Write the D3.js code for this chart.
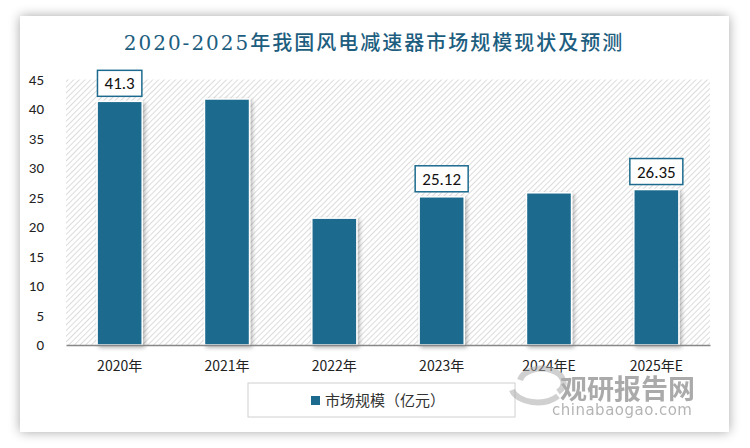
<!DOCTYPE html>
<html><head><meta charset="utf-8">
<script src="https://cdn.jsdelivr.net/npm/d3@7/dist/d3.min.js"></script>
<style>
html,body{margin:0;padding:0;background:#fff;}
svg{display:block;}
</style></head>
<body><svg id="chart" width="750" height="448"></svg>
<script>
const categories = ["2020年","2021年","2022年","2023年","2024年E","2025年E"];
const values = [41.3, 41.7, 21.5, 25.12, 25.8, 26.35];
const labelled = [true, false, false, true, false, true];
const yTicks = [0,5,10,15,20,25,30,35,40,45];
const title = "2020-2025年我国风电减速器市场规模现状及预测";
const seriesName = "市场规模（亿元）";

const svg = d3.select("#chart");
const defs = svg.append("defs");
const f = defs.append("filter").attr("id","cardShadow").attr("x","-10%").attr("y","-10%").attr("width","120%").attr("height","120%");
f.append("feGaussianBlur").attr("in","SourceAlpha").attr("stdDeviation",6);
f.append("feOffset").attr("dx",0).attr("dy",0).attr("result","b");
f.append("feComponentTransfer").append("feFuncA").attr("type","linear").attr("slope",0.35);
const fm = f.append("feMerge"); fm.append("feMergeNode"); fm.append("feMergeNode").attr("in","SourceGraphic");

const bs = defs.append("filter").attr("id","barShadow").attr("x","-30%").attr("y","-10%").attr("width","160%").attr("height","120%");
bs.append("feGaussianBlur").attr("in","SourceAlpha").attr("stdDeviation",2);
bs.append("feOffset").attr("dx",2).attr("dy",2);
bs.append("feComponentTransfer").append("feFuncA").attr("type","linear").attr("slope",0.3);
const bm = bs.append("feMerge"); bm.append("feMergeNode"); bm.append("feMergeNode").attr("in","SourceGraphic");

const pat = defs.append("pattern").attr("id","hatch").attr("patternUnits","userSpaceOnUse")
  .attr("width",4).attr("height",4).attr("patternTransform","rotate(45)");
pat.append("rect").attr("width",4).attr("height",4).attr("fill","#fff");
pat.append("line").attr("x1",0).attr("y1",0).attr("x2",0).attr("y2",4).attr("stroke","#d4d4d4").attr("stroke-width",1.6);

// card
svg.append("rect").attr("x",20).attr("y",16).attr("width",709).attr("height",416)
  .attr("fill","#fff").attr("filter","url(#cardShadow)");

svg.append("text").attr("x",374).attr("y",50).attr("text-anchor","middle")
  .attr("font-family","'DejaVu Serif', 'Noto Sans CJK SC', serif").attr("font-size",20).attr("font-weight",500)
  .attr("fill","#1d5e80").attr("letter-spacing",2).text(title);

const m = {left:66, right:710, top:79.5, bottom:345};
const x = d3.scaleBand().domain(categories).range([m.left, m.right]).paddingInner(0.58).paddingOuter(0.29);
const y = d3.scaleLinear().domain([0,45]).range([m.bottom, m.top]);

svg.append("rect").attr("x",m.left).attr("y",m.top).attr("width",m.right-m.left).attr("height",m.bottom-m.top)
  .attr("fill","url(#hatch)");

const yAxis = d3.axisLeft(y).tickValues(yTicks).tickSize(0).tickPadding(10);
const gy = svg.append("g").attr("transform",`translate(${m.left},0)`).call(yAxis);
gy.select(".domain").remove();
gy.selectAll("text").attr("font-family","Carlito, 'Liberation Sans', sans-serif").attr("font-size",15).attr("fill","#222").attr("dx",-12);

svg.selectAll("rect.bar").data(values).join("rect").attr("class","bar")
  .attr("x",(d,i)=>x(categories[i])).attr("y",d=>y(d))
  .attr("width",x.bandwidth()).attr("height",d=>m.bottom-y(d))
  .attr("fill","#1c6b8e").attr("stroke","#fff").attr("stroke-width",1.5)
  .attr("filter","url(#barShadow)");

const xAxis = d3.axisBottom(x).tickSize(0).tickPadding(16);
const gx = svg.append("g").attr("transform",`translate(0,${m.bottom})`).call(xAxis);
gx.select(".domain").attr("stroke","#888").attr("stroke-width",1.5);
gx.selectAll("text").attr("font-family","'Noto Sans CJK SC', sans-serif").attr("font-size",14).attr("fill","#222");

// data labels
values.forEach((v,i)=>{
  if(!labelled[i]) return;
  const cx = x(categories[i]) + x.bandwidth()/2;
  const txt = String(v);
  const w = txt.length*8.6 + 10, h = 26;
  const top = y(v) - 5 - h;
  svg.append("rect").attr("x",cx-w/2).attr("y",top).attr("width",w).attr("height",h)
    .attr("fill","#fff").attr("stroke","#1c6b8e").attr("stroke-width",1.5);
  svg.append("text").attr("x",cx).attr("y",top+h/2+6).attr("text-anchor","middle")
    .attr("font-family","Carlito, 'Liberation Sans', sans-serif").attr("font-size",17).attr("fill","#111").text(txt);
});

// legend
svg.append("rect").attr("x",248).attr("y",383).attr("width",267).attr("height",34)
  .attr("fill","#fff").attr("stroke","#d0d0d0").attr("stroke-width",1);
svg.append("rect").attr("x",311).attr("y",396).attr("width",9).attr("height",9).attr("fill","#1c6b8e");
svg.append("text").attr("x",325).attr("y",406).attr("font-family","'Noto Sans CJK SC', sans-serif")
  .attr("font-size",15).attr("fill","#333").text(seriesName);

// watermark
const wm = svg.append("g").attr("opacity",0.55);
wm.append("path").attr("d","M520,380 a22,14 0 1,1 38,12 M512,390 a26,16 0 0,0 46,6").attr("fill","none").attr("stroke","#aaa").attr("stroke-width",6);
wm.append("text").attr("x",560).attr("y",399).attr("font-family","'Noto Sans CJK SC', sans-serif").attr("font-weight","bold")
  .attr("font-size",27).attr("fill","#666").text("观研报告网");
wm.append("text").attr("x",552).attr("y",415).attr("font-family","'DejaVu Sans', sans-serif")
  .attr("font-size",15).attr("fill","#777").attr("letter-spacing",0.5).text("chinabaogao.com");
</script></body></html>
